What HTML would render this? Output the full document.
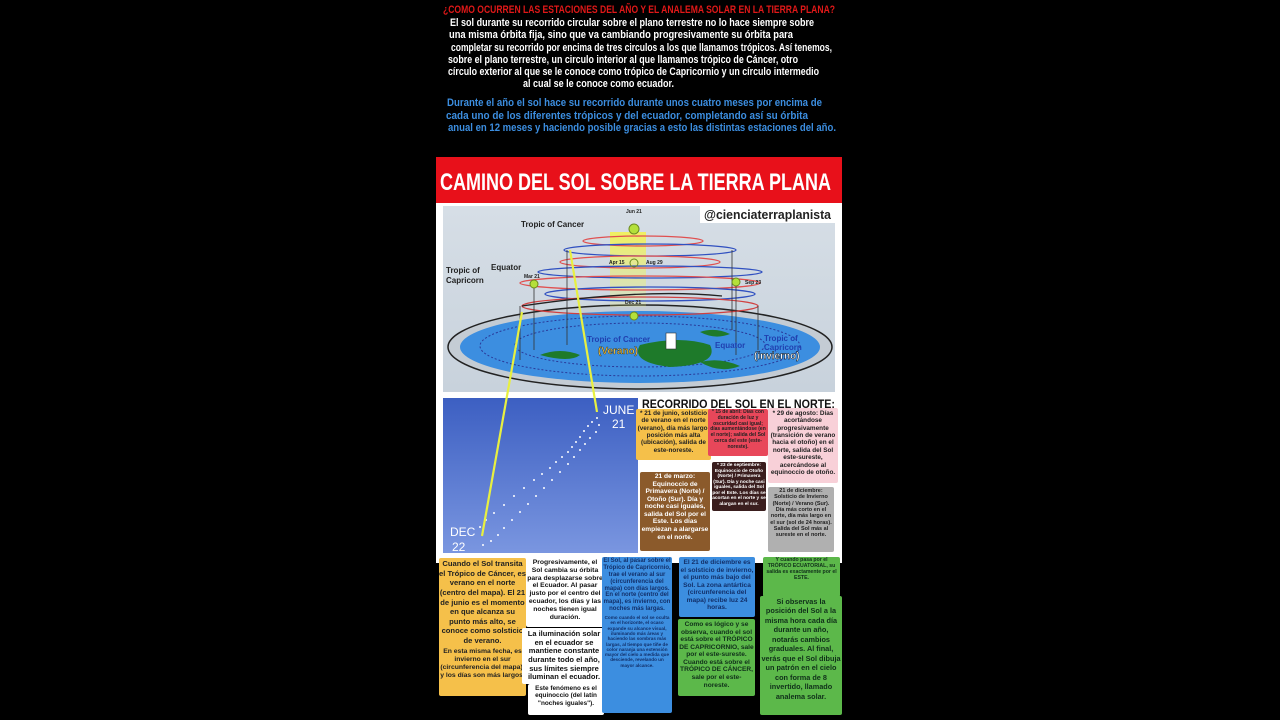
<!DOCTYPE html>
<html><head><meta charset="utf-8">
<style>
*{margin:0;padding:0;box-sizing:border-box}
body{width:1280px;height:720px;background:#000;position:relative;overflow:hidden;font-family:"Liberation Sans",sans-serif}
.b{position:absolute;text-align:center;font-weight:bold;line-height:1.15;overflow:hidden;border-radius:2px}
svg{position:absolute;left:0;top:0}
</style></head><body>
<svg width="1280" height="720" viewBox="0 0 1280 720">
<g font-family="'Liberation Sans Narrow','Liberation Sans',sans-serif" font-weight="bold" lengthAdjust="spacingAndGlyphs">
<text x="443" y="13" font-size="11" fill="#e01818" textLength="392" lengthAdjust="spacingAndGlyphs">¿COMO OCURREN LAS ESTACIONES DEL AÑO Y EL ANALEMA SOLAR EN LA TIERRA PLANA?</text>
<g fill="#fff" font-size="11">
<text x="450" y="26" textLength="364" lengthAdjust="spacingAndGlyphs">El sol durante su recorrido circular sobre el plano terrestre no lo hace siempre sobre</text>
<text x="449" y="38" textLength="344" lengthAdjust="spacingAndGlyphs">una misma órbita fija, sino que va cambiando progresivamente su órbita para</text>
<text x="451" y="51" textLength="381" lengthAdjust="spacingAndGlyphs">completar su recorrido por encima de tres circulos a los que llamamos trópicos. Así tenemos,</text>
<text x="448" y="63" textLength="350" lengthAdjust="spacingAndGlyphs">sobre el plano terrestre, un circulo interior al que llamamos trópico de Cáncer, otro</text>
<text x="448" y="75" textLength="371" lengthAdjust="spacingAndGlyphs">círculo exterior al que se le conoce como trópico de Capricornio y un círculo intermedio</text>
<text x="523" y="87" textLength="151" lengthAdjust="spacingAndGlyphs">al cual se le conoce como ecuador.</text>
</g>
<g fill="#3c8ee0" font-size="11">
<text x="447" y="106" textLength="375" lengthAdjust="spacingAndGlyphs">Durante el año el sol hace su recorrido durante unos cuatro meses por encima de</text>
<text x="446" y="119" textLength="362" lengthAdjust="spacingAndGlyphs">cada uno de los diferentes trópicos y del ecuador, completando así su órbita</text>
<text x="448" y="131" textLength="388" lengthAdjust="spacingAndGlyphs">anual en 12 meses y haciendo posible gracias a esto las distintas estaciones del año.</text>
</g>
</g>
<rect x="436" y="157" width="406" height="46" fill="#e8101a"/>
<rect x="436" y="203" width="406" height="360" fill="#fff"/>
<text x="440" y="190" font-family="'Liberation Sans Narrow','Liberation Sans',sans-serif" font-weight="bold" font-size="24" fill="#fff" textLength="391" lengthAdjust="spacingAndGlyphs">CAMINO DEL SOL SOBRE LA TIERRA PLANA</text>
<defs>
<linearGradient id="sky" x1="0" y1="0" x2="0" y2="1"><stop offset="0" stop-color="#d6dee6"/><stop offset="1" stop-color="#c8d2dc"/></linearGradient>
<linearGradient id="bp" x1="0" y1="0" x2="0" y2="1"><stop offset="0" stop-color="#3c5fc2"/><stop offset="1" stop-color="#7a96e0"/></linearGradient>
<linearGradient id="beam" x1="0" y1="0" x2="0" y2="1"><stop offset="0" stop-color="#f0f060"/><stop offset="1" stop-color="#e8f07a" stop-opacity="0.2"/></linearGradient>
</defs>
<rect x="443" y="206" width="392" height="186" fill="url(#sky)"/>
<ellipse cx="640" cy="347" rx="192" ry="42" fill="#c4ccd4" stroke="#222" stroke-width="1.5"/>
<ellipse cx="640" cy="347" rx="180" ry="36" fill="#3c8ee0"/>
<ellipse cx="640" cy="345" rx="125" ry="22" fill="none" stroke="#2a3a9a" stroke-width="1" stroke-dasharray="2 2"/>
<ellipse cx="640" cy="346" rx="160" ry="30" fill="none" stroke="#2a3a9a" stroke-width="1" stroke-dasharray="2 2"/>
<path d="M540 355 q20 -8 40 0 q-10 8 -40 0z M640 345 q40 -10 70 0 q10 20 -40 22 q-40 -5 -30 -22z M700 362 q20 -5 40 4 q-20 8 -40 -4z M700 332 q15 -5 30 2 q-15 6 -30 -2z" fill="#1e7a2a"/>
<rect x="610" y="232" width="36" height="75" fill="url(#beam)"/>
<g fill="none" stroke-width="1.3">
<ellipse cx="643" cy="241" rx="60" ry="5" stroke="#e05050"/>
<ellipse cx="650" cy="250" rx="86" ry="6" stroke="#3050c0"/>
<ellipse cx="640" cy="262" rx="80" ry="6" stroke="#e05050"/>
<ellipse cx="650" cy="272" rx="112" ry="6" stroke="#3050c0"/>
<ellipse cx="640" cy="283" rx="120" ry="7" stroke="#e05050"/>
<ellipse cx="650" cy="294" rx="105" ry="7" stroke="#3050c0"/>
<ellipse cx="640" cy="306" rx="118" ry="9" stroke="#d04040"/>
<path d="M522 306 q120 -18 200 -10" stroke="#222"/>
</g>
<g stroke="#333" stroke-width="0.8">
<line x1="567" y1="250" x2="567" y2="345"/><line x1="732" y1="250" x2="732" y2="330"/>
<line x1="534" y1="283" x2="534" y2="350"/><line x1="736" y1="283" x2="736" y2="355"/>
<line x1="520" y1="306" x2="520" y2="360"/><line x1="758" y1="306" x2="758" y2="350"/>
</g>
<g fill="#b4e03a" stroke="#6a8a20">
<circle cx="634" cy="229" r="5"/><circle cx="634" cy="263" r="4" fill="none"/>
<circle cx="534" cy="284" r="4"/><circle cx="736" cy="282" r="4"/><circle cx="634" cy="316" r="4"/>
</g>
<g font-family="'Liberation Sans',sans-serif" font-size="7" fill="#222" font-weight="bold">
<text x="626" y="213" font-size="5">Jun 21</text>
<text x="521" y="227" font-size="8">Tropic of Cancer</text>
<text x="491" y="270" font-size="8">Equator</text>
<text x="446" y="273" font-size="8">Tropic of</text>
<text x="446" y="283" font-size="8">Capricorn</text>
<text x="524" y="278" font-size="5">Mar 21</text>
<text x="609" y="264" font-size="5">Apr 15</text>
<text x="646" y="264" font-size="5">Aug 29</text>
<text x="745" y="284" font-size="5">Sep 23</text>
<text x="625" y="304" font-size="5">Dec 21</text>
<text x="587" y="342" font-size="8" fill="#2040b0">Tropic of Cancer</text>
<text x="598" y="354" font-size="10" fill="#f0c040" stroke="#000" stroke-width="0.3">(Verano)</text>
<text x="715" y="348" font-size="8" fill="#2040b0">Equator</text>
<text x="764" y="341" font-size="8" fill="#2040b0">Tropic of</text>
<text x="764" y="350" font-size="8" fill="#2040b0">Capricorn</text>
<text x="754" y="359" font-size="10" fill="#fff" stroke="#000" stroke-width="0.4">(invierno)</text>
</g>
<rect x="666" y="333" width="10" height="16" fill="#fff" stroke="#333" stroke-width="0.6"/>
<rect x="700" y="206" width="135" height="17" fill="#fff"/>
<text x="704" y="219" font-family="'Liberation Sans',sans-serif" font-weight="bold" font-size="13" fill="#222" textLength="127" lengthAdjust="spacingAndGlyphs">@cienciaterraplanista</text>
<rect x="443" y="398" width="195" height="155" fill="url(#bp)"/>
<g fill="#fff">
<circle cx="597" cy="418" r="1"/><circle cx="592" cy="422" r="1"/><circle cx="588" cy="426" r="1"/><circle cx="584" cy="431" r="1"/><circle cx="580" cy="437" r="1"/><circle cx="576" cy="442" r="1"/><circle cx="572" cy="447" r="1"/><circle cx="568" cy="452" r="1"/><circle cx="562" cy="457" r="1"/><circle cx="556" cy="462" r="1"/><circle cx="550" cy="468" r="1"/><circle cx="542" cy="474" r="1"/><circle cx="534" cy="480" r="1"/><circle cx="524" cy="488" r="1"/><circle cx="514" cy="496" r="1"/><circle cx="504" cy="505" r="1"/><circle cx="494" cy="513" r="1"/><circle cx="486" cy="520" r="1"/><circle cx="480" cy="527" r="1"/><circle cx="483" cy="545" r="1"/>
<circle cx="599" cy="425" r="1"/><circle cx="596" cy="432" r="1"/><circle cx="590" cy="438" r="1"/><circle cx="585" cy="444" r="1"/><circle cx="580" cy="450" r="1"/><circle cx="574" cy="457" r="1"/><circle cx="568" cy="464" r="1"/><circle cx="560" cy="472" r="1"/><circle cx="552" cy="480" r="1"/><circle cx="544" cy="488" r="1"/><circle cx="536" cy="496" r="1"/><circle cx="528" cy="504" r="1"/><circle cx="520" cy="512" r="1"/><circle cx="512" cy="520" r="1"/><circle cx="504" cy="528" r="1"/><circle cx="498" cy="535" r="1"/><circle cx="491" cy="541" r="1"/>
</g>
<g fill="#fff" font-family="'Liberation Sans',sans-serif" font-size="12">
<text x="603" y="414">JUNE</text><text x="612" y="428">21</text>
<text x="450" y="536">DEC</text><text x="452" y="551">22</text>
</g>
<g stroke="#e8f040" stroke-width="2.2">
<line x1="570" y1="250" x2="597" y2="412"/>
<line x1="522" y1="312" x2="482" y2="536"/>
</g>
<text x="642" y="408" font-family="'Liberation Sans',sans-serif" font-weight="bold" font-size="11.5" fill="#111" textLength="193" lengthAdjust="spacingAndGlyphs">RECORRIDO DEL SOL EN EL NORTE:</text>
</svg>

<div class="b" style="left:636px;top:409px;width:75px;height:51px;background:#f5c04a;color:#222;font-size:6.4px;padding-top:1px">* 21 de junio, solsticio de verano en el norte (verano), día más largo, posición más alta (ubicación), salida de este-noreste.</div>
<div class="b" style="left:708px;top:409px;width:60px;height:47px;background:#e8475a;color:#222;font-size:5px;padding-top:1px">* 15 de abril: Días con duración de luz y oscuridad casi igual; días aumentándose (en el norte); salida del Sol cerca del este (este-noreste).</div>
<div class="b" style="left:768px;top:408px;width:70px;height:75px;background:#f8d0d8;color:#222;font-size:6.4px;padding-top:2px">* 29 de agosto: Días acortándose progresivamente (transición de verano hacia el otoño) en el norte, salida del Sol este-sureste, acercándose al equinoccio de otoño.</div>
<div class="b" style="left:640px;top:472px;width:70px;height:79px;background:#8b5a2b;color:#fff;font-size:6.6px;padding-top:1px">21 de marzo: Equinoccio de Primavera (Norte) / Otoño (Sur). Día y noche casi iguales, salida del Sol por el Este. Los días empiezan a alargarse en el norte.</div>
<div class="b" style="left:712px;top:462px;width:54px;height:49px;background:#3a1e1e;color:#fff;font-size:4.8px;padding-top:1px">* 23 de septiembre: Equinoccio de Otoño (Norte) / Primavera (Sur). Día y noche casi iguales, salida del Sol por el Este. Los días se acortan en el norte y se alargan en el sur.</div>
<div class="b" style="left:768px;top:487px;width:66px;height:65px;background:#b0b0b0;color:#222;font-size:5.5px;padding-top:1px">21 de diciembre: Solsticio de Invierno (Norte) / Verano (Sur). Día más corto en el norte, día más largo en el sur (sol de 24 horas). Salida del Sol más al sureste en el norte.</div>

<div class="b" style="left:439px;top:558px;width:87px;height:138px;background:#f5c04a;color:#222;font-size:7.6px;line-height:1.27;padding-top:1px">Cuando el Sol transita el Trópico de Cáncer, es verano en el norte (centro del mapa). El 21 de junio es el momento en que alcanza su punto más alto, se conoce como solsticio de verano.<div style="font-size:6.8px;margin-top:2px;line-height:1.2">En esta misma fecha, es invierno en el sur (circunferencia del mapa), y los días son más largos.</div></div>
<div class="b" style="left:526px;top:557px;width:78px;height:70px;background:#fff;color:#111;font-size:6.8px;padding:2px 1px">Progresivamente, el Sol cambia su órbita para desplazarse sobre el Ecuador. Al pasar justo por el centro del ecuador, los días y las noches tienen igual duración.</div>
<div class="b" style="left:522px;top:628px;width:84px;height:56px;background:#fff;color:#111;font-size:7.5px;padding:2px 1px">La iluminación solar en el ecuador se mantiene constante durante todo el año, sus límites siempre iluminan el ecuador.</div>
<div class="b" style="left:528px;top:684px;width:76px;height:31px;background:#fff;color:#111;font-size:6.4px;padding:1px">Este fenómeno es el equinoccio (del latín "noches iguales").</div>
<div class="b" style="left:602px;top:557px;width:70px;height:156px;background:#3c8ee0;color:#12306a;font-size:6px;padding:1px">El Sol, al pasar sobre el Trópico de Capricornio, trae el verano al sur (circunferencia del mapa) con días largos. En el norte (centro del mapa), es invierno, con noches más largas.<div style="font-size:4.6px;margin-top:2px">Como cuando el sol se oculta en el horizonte, el ocaso expande su alcance visual, iluminando más áreas y haciendo las sombras más largas, al tiempo que tiñe de color naranja una extensión mayor del cielo a medida que desciende, revelando un mayor alcance.</div></div>
<div class="b" style="left:679px;top:557px;width:76px;height:60px;background:#3c8ee0;color:#12306a;font-size:6.6px;padding:2px 1px">El 21 de diciembre es el solsticio de invierno, el punto más bajo del Sol. La zona antártica (circunferencia del mapa) recibe luz 24 horas.</div>
<div class="b" style="left:678px;top:619px;width:77px;height:77px;background:#5cb84a;color:#10301a;font-size:6.6px;padding:2px 1px">Como es lógico y se observa, cuando el sol está sobre el TRÓPICO DE CAPRICORNIO, sale por el este-sureste. Cuando está sobre el TRÓPICO DE CÁNCER, sale por el este-noreste.</div>
<div class="b" style="left:763px;top:557px;width:77px;height:40px;background:#5cb84a;color:#10301a;font-size:5.2px;padding:1px">Y cuando pasa por el TRÓPICO ECUATORIAL, su salida es exactamente por el ESTE.</div>
<div class="b" style="left:760px;top:596px;width:82px;height:119px;background:#5cb84a;color:#10301a;font-size:7.3px;line-height:1.3;padding:1px">Si observas la posición del Sol a la misma hora cada día durante un año, notarás cambios graduales. Al final, verás que el Sol dibuja un patrón en el cielo con forma de 8 invertido, llamado analema solar.</div>
</body></html>
